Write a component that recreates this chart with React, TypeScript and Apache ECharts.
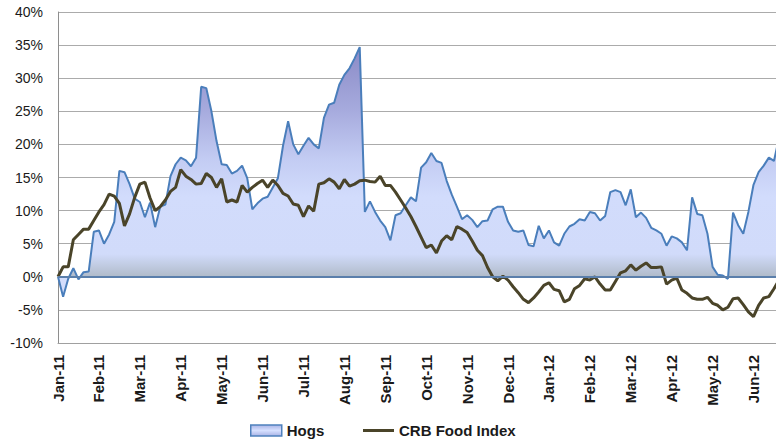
import React, { useEffect, useRef } from 'react';
import * as echarts from 'echarts';

const monthLabels = [
  'Jan-11', 'Feb-11', 'Mar-11', 'Apr-11', 'May-11', 'Jun-11', 'Jul-11', 'Aug-11', 'Sep-11',
  'Oct-11', 'Nov-11', 'Dec-11', 'Jan-12', 'Feb-12', 'Mar-12', 'Apr-12', 'May-12', 'Jun-12',
];

// observations per month (roughly every 2-3 trading days)
const periodsPerMonth = 8;
const xMaxMonths = 17.55;

const yMin = -10;
const yMax = 40;
const yStep = 5;

// Hogs, % change
const hogs = [
  0, -3.0, -0.3, 1.3, -0.4, 0.7, 0.8, 6.8, 7.0, 5.0,
  6.4, 8.3, 16.0, 15.8, 14.0, 11.8, 11.3, 9.0, 11.2, 7.5,
  10.6, 10.9, 15.2, 17.0, 18.0, 17.6, 16.7, 18.0, 28.7, 28.5,
  25.0, 20.5, 17.0, 16.9, 15.6, 16.0, 16.8, 14.9, 10.2, 11.1,
  11.8, 12.1, 13.5, 14.9, 19.8, 23.5, 20.0, 18.5, 19.8, 21.0,
  20.0, 19.4, 24.0, 26.0, 26.3, 29.0, 30.5, 31.5, 33.0, 34.7,
  9.8, 11.4, 9.8, 8.5, 7.5, 5.5, 9.3, 9.6, 10.8, 12.0,
  11.4, 16.5, 17.3, 18.7, 17.5, 17.2, 14.5, 12.4, 10.6, 8.7,
  9.3, 8.6, 7.5, 8.4, 8.5, 10.2, 10.6, 10.6, 8.3, 7.0,
  6.8, 7.0, 4.8, 4.6, 7.7, 5.8, 7.0, 5.2, 4.7, 6.5,
  7.6, 8.0, 8.7, 8.5, 9.8, 9.6, 8.5, 9.2, 12.8, 13.1,
  12.8, 10.8, 13.2, 9.0, 9.7, 8.9, 7.4, 7.0, 6.5, 4.7,
  6.1, 5.8, 5.2, 4.0, 12.0, 9.5, 9.3, 6.5, 1.5, 0.3,
  0.2, -0.3, 9.7, 7.8, 6.5, 9.8, 13.9, 15.8, 16.8, 18.0,
  17.5, 21.0,
];

// CRB Food Index, % change
const crb = [
  0, 1.5, 1.5, 5.6, 6.4, 7.2, 7.2, 8.5, 9.8, 10.9,
  12.5, 12.2, 11.1, 7.7, 9.5, 12.0, 14.0, 14.3, 11.9, 10.0,
  10.6, 11.6, 12.9, 13.5, 16.2, 15.2, 14.7, 14.0, 14.1, 15.6,
  15.0, 13.5, 14.8, 11.3, 11.6, 11.3, 13.8, 12.8, 13.5, 14.1,
  14.6, 13.5, 14.6, 13.8, 12.6, 12.2, 11.0, 10.8, 9.1, 10.7,
  9.9, 14.0, 14.2, 14.8, 14.3, 13.3, 14.7, 13.7, 14.0, 14.5,
  14.6, 14.4, 14.3, 15.2, 13.8, 13.8, 12.8, 11.6, 10.4, 9.1,
  7.6, 6.0, 4.4, 4.8, 3.6, 5.4, 6.2, 5.6, 7.6, 7.2,
  6.7, 5.4, 4.0, 3.2, 1.4, 0.0, -0.6, 0.1, -0.5, -1.5,
  -2.4, -3.4, -3.9, -3.2, -2.3, -1.3, -0.9, -1.9, -2.1, -3.8,
  -3.4, -1.8, -1.3, -0.3, -0.5, 0.0, -1.1, -2.0, -2.0, -0.7,
  0.6, 0.9, 1.8, 1.0, 1.6, 2.1, 1.4, 1.4, 1.5, -1.1,
  -0.5, -0.2, -2.0, -2.5, -3.2, -3.4, -3.4, -3.1, -4.0, -4.3,
  -5.0, -4.6, -3.3, -3.2, -4.2, -5.3, -6.0, -4.3, -3.2, -3.0,
  -1.8, -0.5,
];

const FONT = "'Liberation Sans', Arial, sans-serif";

export default function App() {
  const ref = useRef<HTMLDivElement>(null);

  useEffect(() => {
    if (!ref.current) return;
    const chart = echarts.init(ref.current, null, { renderer: 'svg' });
    const toPairs = (arr: number[]) => arr.map((v, i) => [i / periodsPerMonth, v]);

    const areaGradient = new echarts.graphic.LinearGradient(0, 0, 0, 1, [
      { offset: 0, color: '#8a8ac6' },
      { offset: 0.25, color: '#a6aadd' },
      { offset: 0.45, color: '#c3ccf3' },
      { offset: 0.6, color: '#d2dcfc' },
      { offset: 0.83, color: '#d1dbfa' },
      { offset: 0.92, color: '#b0bbc9' },
      { offset: 0.921, color: '#d3ddfc' },
      { offset: 1, color: '#d3ddfc' },
    ]);
    const legendGradient = new echarts.graphic.LinearGradient(0, 0, 0, 1, [
      { offset: 0, color: '#aab4e6' },
      { offset: 0.5, color: '#d6e0ff' },
      { offset: 1, color: '#aab4e6' },
    ]);

    const legendText = { fontFamily: FONT, fontSize: 15, fontWeight: 'bold', color: '#1a1a1a' };

    chart.setOption({
      animation: false,
      backgroundColor: '#ffffff',
      textStyle: { fontFamily: FONT },
      grid: { left: 58, right: 0, top: 12, bottom: 99, containLabel: false },
      legend: [
        {
          left: 245,
          top: 418,
          itemWidth: 31,
          itemHeight: 11,
          textStyle: legendText,
          data: [
            {
              name: 'Hogs',
              icon: 'rect',
              itemStyle: { color: legendGradient, borderColor: '#4f81bd', borderWidth: 1.5 },
            },
          ],
        },
        {
          left: 358,
          top: 418,
          itemWidth: 31,
          itemHeight: 3,
          textStyle: legendText,
          data: [
            {
              name: 'CRB Food Index',
              icon: 'rect',
              itemStyle: { color: '#4a4429', borderWidth: 0 },
            },
          ],
        },
      ],
      xAxis: {
        type: 'value',
        min: 0,
        max: xMaxMonths,
        interval: 1,
        axisLine: { show: true, onZero: false, lineStyle: { color: '#a0a0a0', width: 1 } },
        axisTick: { show: false },
        splitLine: { show: false },
        axisLabel: {
          rotate: 90,
          margin: 12,
          fontFamily: FONT,
          fontSize: 15,
          fontWeight: 'bold',
          color: '#1a1a1a',
          showMaxLabel: false,
          formatter: (v: number) => {
            const r = Math.round(v);
            return Math.abs(v - r) < 1e-6 && monthLabels[r] ? monthLabels[r] : '';
          },
        },
      },
      yAxis: {
        type: 'value',
        min: yMin,
        max: yMax,
        interval: yStep,
        axisLine: { show: true, lineStyle: { color: '#8e8e8e', width: 1 } },
        axisTick: { show: false },
        splitLine: { show: true, lineStyle: { color: '#ababab', width: 1 } },
        axisLabel: {
          margin: 15,
          fontFamily: FONT,
          fontSize: 14,
          color: '#1a1a1a',
          formatter: '{value}%',
        },
      },
      series: [
        {
          name: 'Hogs',
          type: 'line',
          data: toPairs(hogs),
          symbol: 'none',
          showSymbol: false,
          z: 2,
          lineStyle: { color: '#4a7ebb', width: 2 },
          itemStyle: { color: '#4a7ebb' },
          areaStyle: { color: areaGradient, opacity: 1 },
          markLine: {
            silent: true,
            symbol: 'none',
            label: { show: false },
            lineStyle: { color: '#5b7fab', width: 2, type: 'solid' },
            data: [{ yAxis: 0 }],
          },
        },
        {
          name: 'CRB Food Index',
          type: 'line',
          data: toPairs(crb),
          symbol: 'none',
          showSymbol: false,
          z: 3,
          lineStyle: { color: '#4a4429', width: 3 },
          itemStyle: { color: '#4a4429' },
        },
      ],
    });

    return () => chart.dispose();
  }, []);

  return (
    <div
      ref={ref}
      style={{ position: 'fixed', left: 0, top: 0, width: 776, height: 442 }}
    />
  );
}
